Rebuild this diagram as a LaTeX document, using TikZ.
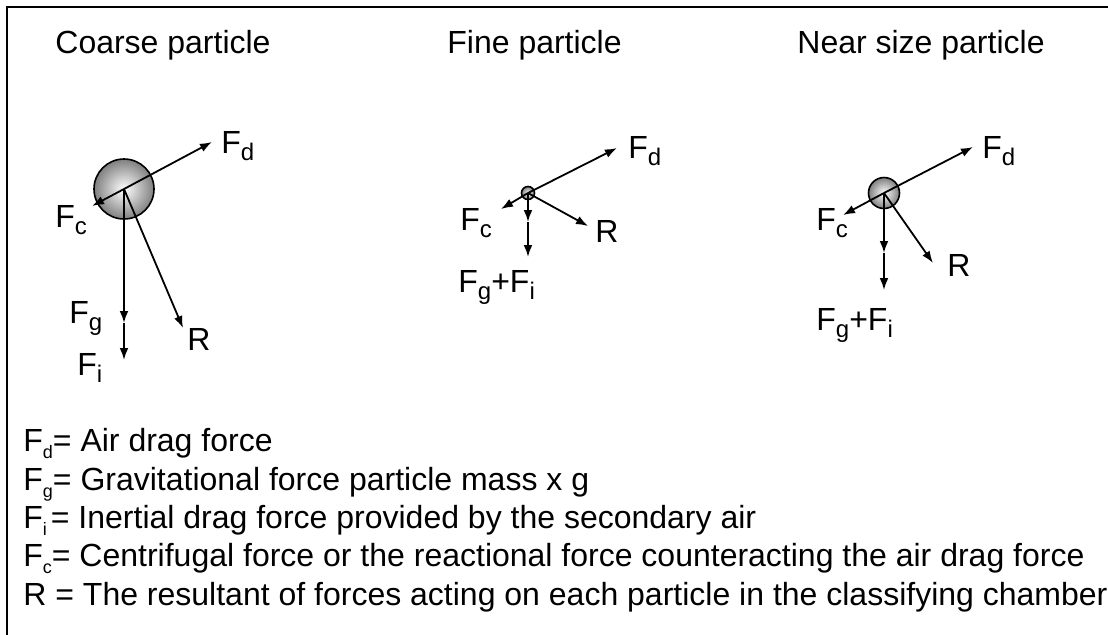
\documentclass[tikz,border=0pt]{standalone}
\usepackage{fontspec}
\setmainfont{Liberation Sans}
\usetikzlibrary{arrows.meta}
\newcommand\dsub[1]{\raisebox{-3.5pt}{\fontsize{12}{12}\selectfont #1}}
\newcommand\lsub[1]{\raisebox{-3.5pt}{\fontsize{9}{9}\selectfont #1}}
\tikzset{
  frc/.style={-{Latex[length=6pt,width=4.4pt]},line width=0.9pt},
  ptcl/.style={circle,draw,line width=0.8pt,inner sep=0pt,minimum size=#1,shading=radial,inner color=white,outer color=black!50},
  txt/.style={anchor=base west,inner sep=0pt,font=\fontsize{16}{19}\selectfont},
}
\begin{document}
\begin{tikzpicture}[x=0.5pt,y=-0.5pt]
 \useasboundingbox (0,0) rectangle (1108,634);
 \draw[line width=1pt] (7,640) -- (7,7) -- (1115,7);
 \node[txt] (tCoarse) at (55,53) {Coarse particle};
 \node[txt] (tFine) at (447,53) {Fine particle};
 \node[txt] (tNear) at (797,53) {Near size particle};
 % coarse particle
 \node[ptcl=30pt] (coarse) at (124,189) {};
 \coordinate (cd) at (212,142); \coordinate (cc) at (92,206);
 \coordinate (cg) at (124,323); \coordinate (ci) at (124,360);
 \coordinate (cr) at (183,328);
 \draw[frc] (coarse.center) -- (cd); \draw[frc] (coarse.center) -- (cc);
 \draw[frc] (coarse.center) -- (cg); \draw[frc] (cg) -- (ci);
 \draw[frc] (coarse.center) -- (cr);
 \node[txt] (cLd) at (221,153) {F\dsub{d}};
 \node[txt] (cLc) at (55,227) {F\dsub{c}};
 \node[txt] (cLg) at (69,323) {F\dsub{g}};
 \node[txt] (cLi) at (77,375) {F\dsub{i}};
 \node[txt] (cLr) at (187,350) {R};
 % fine particle
 \node[ptcl=6.5pt] (fine) at (528,193) {};
 \coordinate (fd) at (617,148); \coordinate (fc) at (501,209);
 \coordinate (fg) at (528,222); \coordinate (fi) at (528,257);
 \coordinate (fr) at (588,226);
 \draw[frc] (fine.center) -- (fd); \draw[frc] (fine.center) -- (fc);
 \draw[frc] (fine.center) -- (fg); \draw[frc] (fg) -- (fi);
 \draw[frc] (fine.center) -- (fr);
 \node[txt] (fLd) at (628,158) {F\dsub{d}};
 \node[txt] (fLc) at (460,230) {F\dsub{c}};
 \node[txt] (fLr) at (595,242) {R};
 \node[txt] (fLgi) at (458,292) {F\dsub{g}+F\dsub{i}};
 % near size particle
 \node[ptcl=15.5pt] (near) at (884,193) {};
 \coordinate (nd) at (973,147); \coordinate (nc) at (843,215);
 \coordinate (ng) at (884,253); \coordinate (ni) at (884,290);
 \coordinate (nr) at (933,263);
 \draw[frc] (near.center) -- (nd); \draw[frc] (near.center) -- (nc);
 \draw[frc] (near.center) -- (ng); \draw[frc] (ng) -- (ni);
 \draw[frc] (near.center) -- (nr);
 \node[txt] (nLd) at (982,158) {F\dsub{d}};
 \node[txt] (nLc) at (816,230) {F\dsub{c}};
 \node[txt] (nLr) at (947,276) {R};
 \node[txt] (nLgi) at (816,330) {F\dsub{g}+F\dsub{i}};
 % legend
 \node[txt] (lFd) at (23,451) {F\lsub{d}= Air drag force};
 \node[txt] (lFg) at (23,490) {F\lsub{g}= Gravitational force particle mass x g};
 \node[txt] (lFi) at (23,528) {F\lsub{i}\hspace{2pt}= Inertial drag force provided by the secondary air};
 \node[txt] (lFc) at (23,566) {F\lsub{c}= Centrifugal force or the reactional force counteracting the air drag force};
 \node[txt] (lR) at (23,605) {R = The resultant of forces acting on each particle in the classifying chamber};
\end{tikzpicture}
\end{document}
